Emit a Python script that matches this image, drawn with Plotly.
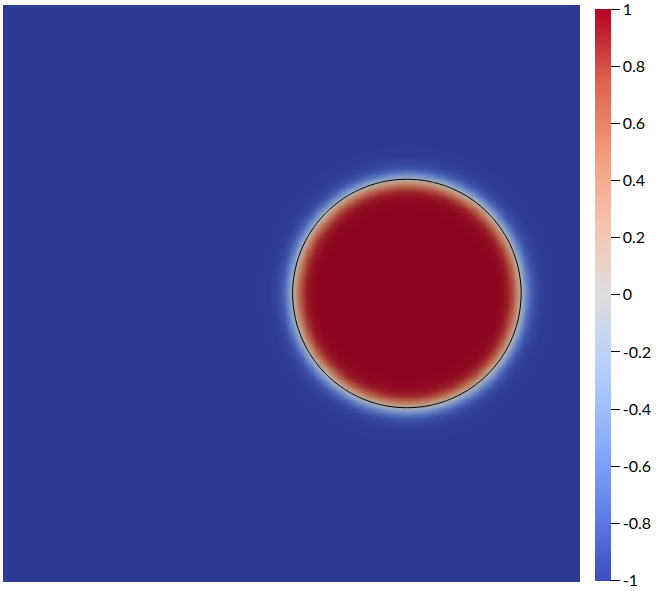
"""Phase field (circle) with coolwarm colour map, ParaView style."""

import numpy as np
import plotly.graph_objects as go

# field parameters (domain is the unit square)
GRID_N = 128
CENTER_X = 0.70
CENTER_Y = 0.50
RADIUS = 0.198
INTERFACE_WIDTH = 0.016

# colorbar ticks
TICK_VALS = [1, 0.8, 0.6, 0.4, 0.2, 0, -0.2, -0.4, -0.6, -0.8, -1]
TICK_TEXT = ["1", "0.8", "0.6", "0.4", "0.2", "0", "-0.2", "-0.4", "-0.6", "-0.8", "-1"]

COOLWARM = [
    [0.0, "rgb(59,76,192)"],
    [0.125, "rgb(98,130,234)"],
    [0.25, "rgb(141,176,254)"],
    [0.375, "rgb(184,208,249)"],
    [0.5, "rgb(221,221,221)"],
    [0.625, "rgb(245,196,173)"],
    [0.75, "rgb(244,154,123)"],
    [0.875, "rgb(222,96,77)"],
    [1.0, "rgb(180,4,38)"],
]

xs = np.linspace(0, 1, GRID_N)
ys = np.linspace(0, 1, GRID_N)
X, Y = np.meshgrid(xs, ys)
dist = np.sqrt((X - CENTER_X) ** 2 + (Y - CENTER_Y) ** 2)
phi = np.tanh((RADIUS - dist) / INTERFACE_WIDTH)

fig = go.Figure()
fig.add_trace(go.Heatmap(
    x=xs, y=ys, z=phi, zmin=-1.001, zmax=1.001, zsmooth="best",
    colorscale=COOLWARM,
    colorbar=dict(
        x=595 / 658, xanchor="left", xref="container", xpad=0,
        y=1 - 302 / 591, yanchor="middle", yref="container", ypad=0,
        len=572, lenmode="pixels", thickness=16, thicknessmode="pixels",
        outlinewidth=0, ticks="outside", ticklen=9, tickwidth=1,
        tickcolor="black", tickvals=TICK_VALS, ticktext=TICK_TEXT,
        ticklabeloverflow="allow",
        tickfont=dict(family="Lato", size=16, color="black"),
    ),
))
fig.add_trace(go.Contour(
    x=xs, y=ys, z=phi, showscale=False,
    contours=dict(start=0, end=0, size=1, coloring="none"),
    line=dict(color="black", width=1), hoverinfo="skip",
))

# ParaView lighting darkens the surface a bit
fig.add_shape(type="rect", xref="x", yref="y", x0=0, x1=1, y0=0, y1=1,
              fillcolor="rgba(0,0,0,0.22)", line_width=0, layer="above")

fig.update_layout(
    width=658, height=591,
    margin=dict(l=3, r=78, t=5, b=9, autoexpand=False),
    paper_bgcolor="white", plot_bgcolor="white",
    showlegend=False,
    xaxis=dict(visible=False, range=[0, 1], constrain="domain"),
    yaxis=dict(visible=False, range=[0, 1]),
)

fig.write_html("out.html", config={"displayModeBar": False},
               post_script="document.body.style.margin='0';"
                           "document.body.style.overflow='hidden';")
